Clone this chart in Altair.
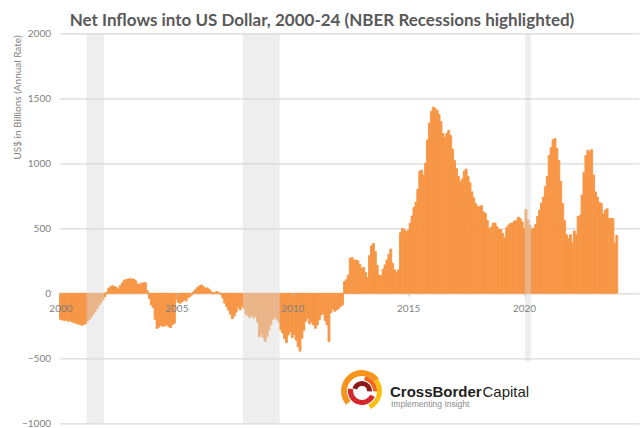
import altair as alt
import pandas as pd

# Monthly net inflows (US$ bn, annual rate), Jan 2000 .. Jan 2024
y2000 = [-200, -205, -210, -205, -215, -210, -220, -225, -230, -235, -240, -245]
y2001 = [-240, -235, -215, -200, -180, -160, -140, -115, -90, -70, -50, -25]
y2002 = [10, 40, 50, 58, 52, 45, 32, 60, 80, 100, 105, 110]
y2003 = [112, 110, 108, 95, 72, 65, 78, 80, 82, 20, -40, -90]
y2004 = [-110, -200, -270, -260, -245, -255, -250, -243, -255, -264, -240, -230]
y2005 = [-45, -70, -77, -64, -51, -60, -35, -26, -13, 13, 30, 45]
y2006 = [57, 64, 51, 38, 42, 30, 15, -5, 8, 13, 5, -10]
y2007 = [-35, -75, -102, -130, -160, -195, -175, -145, -105, -128, -100, -115]
y2008 = [-160, -170, -185, -165, -190, -175, -220, -335, -310, -340, -370, -330]
y2009 = [-280, -240, -200, -180, -200, -220, -280, -305, -350, -380, -320, -294]
y2010 = [-340, -315, -360, -410, -445, -346, -285, -215, -190, -235, -222, -243]
y2011 = [-269, -243, -205, -166, -158, -210, -243, -371, -150, -120, -138, -128]
y2012 = [-115, -100, -90, 90, 105, 140, 270, 275, 255, 256, 250, 222]
y2013 = [192, 200, 160, 120, 290, 365, 384, 320, 215, 140, 135, 185]
y2014 = [218, 256, 300, 340, 230, 180, 160, 180, 465, 499, 490, 474]
y2015 = [484, 538, 595, 660, 700, 800, 940, 947, 909, 1000, 1180, 1310]
y2016 = [1400, 1432, 1421, 1408, 1375, 1320, 1230, 1200, 1229, 1254, 1215, 1110]
y2017 = [1020, 960, 900, 858, 880, 940, 955, 900, 850, 781, 735, 690]
y2018 = [670, 665, 675, 627, 614, 560, 499, 510, 540, 540, 512, 490]
y2019 = [490, 460, 425, 505, 525, 538, 540, 555, 560, 585, 576, 550]
y2020 = [499, 645, 565, 525, 490, 500, 530, 590, 640, 695, 740, 820]
y2021 = [900, 1060, 1120, 1180, 1190, 1115, 1020, 860, 690, 560, 450, 420]
y2022 = [450, 390, 480, 455, 590, 600, 755, 930, 1060, 1100, 1090, 1105]
y2023 = [910, 780, 740, 700, 690, 610, 640, 650, 575, 575, 575, 385]
y2024 = [445]

# NBER recessions (fractional years) and band extents
rec_start = [2001 + 2 / 12, 2007 + 11 / 12, 2020 + 1 / 12]
rec_end = [2001 + 11 / 12, 2009 + 6 / 12, 2020 + 4 / 12]
rec_top = [2000, 2000, 2000]
rec_bottom = [-1000, -1000, -525]

year_ticks = [2000, 2005, 2010, 2015, 2020]
y_ticks = [-1000, -500, 0, 500, 1000, 1500, 2000]

TITLE = "Net Inflows into US Dollar, 2000-24 (NBER Recessions highlighted)"
Y_TITLE = "US$ in Billions (Annual Rate)"

series = (y2000 + y2001 + y2002 + y2003 + y2004 + y2005 + y2006 + y2007 + y2008
          + y2009 + y2010 + y2011 + y2012 + y2013 + y2014 + y2015 + y2016 + y2017
          + y2018 + y2019 + y2020 + y2021 + y2022 + y2023 + y2024)
df = pd.DataFrame({
    "x": [2000 + m / 12 for m in range(len(series))],
    "x2": [2000 + (m + 1) / 12 for m in range(len(series))],
    "v": series,
})
bands = pd.DataFrame({"s": rec_start, "e": rec_end, "t": rec_top, "b": rec_bottom})

W, H = 579.5, 390
L, T = 59.5, 33.3
GRAY = "#7f7f7f"

xscale = alt.Scale(domain=[2000, 2025], nice=False, zero=False)
yscale = alt.Scale(domain=[-1000, 2000], nice=False, zero=False)

x_axis = alt.Axis(
    values=[yr + 1 / 24 for yr in year_ticks],
    labelExpr="format(floor(datum.value), 'd')",
    offset=-130, grid=False, domain=False, ticks=True, tickSize=3,
    tickColor="#bfbfbf", labelPadding=7, labelFlush=False, zindex=2,
    labelFont="Lato", labelFontSize=10, labelColor=GRAY, title=None)
y_axis = alt.Axis(
    values=y_ticks, format="d", grid=True, gridColor="#d9d9d9", gridWidth=1.3,
    domain=False, ticks=False, labelPadding=9,
    labelFont="Lato", labelFontSize=10, labelColor=GRAY,
    title=Y_TITLE, titleFont="Lato", titleFontSize=10, titleFontWeight="normal",
    titleColor=GRAY, titleAngle=270, titleX=17 - L, titleY=97 - T,
    titleAlign="center", titleBaseline="middle")

bars = alt.Chart(df).mark_bar(
    color="#F79646", stroke="#F79646", strokeWidth=0.9
).encode(
    x=alt.X("x:Q", scale=xscale, axis=x_axis),
    x2="x2:Q",
    y=alt.Y("v:Q", scale=yscale, axis=y_axis),
    y2=alt.datum(0),
)

rects = alt.Chart(bands).mark_rect(color="#d9d9d9", opacity=0.45).encode(
    x=alt.X("s:Q", scale=xscale, axis=x_axis),
    x2="e:Q",
    y=alt.Y("t:Q", scale=yscale, axis=y_axis),
    y2="b:Q",
)

title = alt.Chart(pd.DataFrame({"t": [TITLE]})).mark_text(
    font="Lato", fontWeight="bold", fontSize=17, color="#595959",
    align="center", baseline="alphabetic"
).encode(x=alt.value(322 - L), y=alt.value(26 - T), text="t:N")

# Logo
cx, cy = 362 - L, 391 - T
arcs = []
for r1, r2, t1, t2, col in [
    (15, 21, 4.0, 7.2, "#f7941e"),
    (15, 20, 0.9, 2.7, "#fdc010"),
    (9, 14, 2.0, 4.9, "#d7262b"),
    (5, 10, 5.0, 7.9, "#8b1a1a"),
    (11, 15, 0.2, 1.6, "#f26522"),
]:
    arcs.append(alt.Chart(pd.DataFrame({"k": [0]})).mark_arc(
        radius=r2, radius2=r1, theta=t1, theta2=t2, color=col
    ).encode(x=alt.value(cx), y=alt.value(cy)))

logo1 = alt.Chart(pd.DataFrame({"t": ["CrossBorder"]})).mark_text(
    font="Liberation Sans", fontWeight="bold", fontSize=15, color="#231f20",
    align="left", baseline="alphabetic"
).encode(x=alt.value(390 - L), y=alt.value(397 - T), text="t:N")
logo2 = alt.Chart(pd.DataFrame({"t": ["Capital"]})).mark_text(
    font="Liberation Sans", fontSize=15, color="#231f20",
    align="left", baseline="alphabetic"
).encode(x=alt.value(482.5 - L), y=alt.value(397 - T), text="t:N")
logo3 = alt.Chart(pd.DataFrame({"t": ["Implementing Insight"]})).mark_text(
    font="Liberation Sans", fontSize=8.5, color="#8c8c8c",
    align="left", baseline="alphabetic"
).encode(x=alt.value(391 - L), y=alt.value(407 - T), text="t:N")

chart = alt.layer(bars, rects, title, *arcs, logo1, logo2, logo3).properties(
    width=W, height=H,
    autosize=alt.AutoSizeParams(type="none"),
    padding={"left": L, "top": T, "right": 643 - L - W, "bottom": 428 - T - H},
    background="white",
).configure_view(stroke=None)

chart.save("out.html", embed_options={"renderer": "svg", "actions": False})
